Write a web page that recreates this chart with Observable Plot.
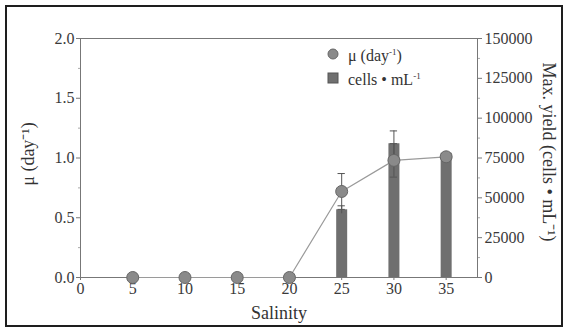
<!DOCTYPE html>
<html>
<head>
<meta charset="utf-8">
<script src="https://cdn.jsdelivr.net/npm/d3@7"></script>
<script src="https://cdn.jsdelivr.net/npm/@observablehq/plot@0.6"></script>
<style>
  html, body { margin: 0; padding: 0; background: #fff; }
  #wrap { position: relative; width: 568px; height: 329px; overflow: hidden; }
  #frame { position: absolute; left: 5px; top: 5px; width: 558px; height: 322px; border: 2px solid #1e1e1e; box-sizing: border-box; pointer-events: none; }
  #legend { position: absolute; left: 326px; top: 42px; font-family: "Liberation Serif", serif; font-size: 16px; color: #333; line-height: 20px; }
  #legend div { display: flex; align-items: center; }
  #legend svg { margin-right: 8px; }
  sup { font-size: 9px; vertical-align: 6px; }
</style>
</head>
<body>
<div id="wrap">
  <div id="chart"></div>
  <div id="legend">
    <div><svg width="14" height="14"><circle cx="7" cy="7" r="5" fill="#8a8a8a" stroke="#666"/></svg><span>μ (day<sup>-1</sup>)</span></div>
    <div><svg width="14" height="14"><rect x="2" y="2" width="10" height="10" fill="#707070" stroke="#555"/></svg><span>cells • mL<sup>-1</sup></span></div>
  </div>
  <div id="frame"></div>
</div>
<script>
// ---- data ----
const salinity = [5, 10, 15, 20, 25, 30, 35];
const mu = [0, 0, 0, 0, 0.72, 0.98, 1.01];
const muErr = [0, 0, 0, 0, 0.15, 0.14, 0.02];
const maxYield = [0, 0, 0, 0, 42500, 84000, 78000];
const yieldErr = [0, 0, 0, 0, 2500, 8000, 0];
const xTicks = [0, 5, 10, 15, 20, 25, 30, 35];
const muTicks = [0, 0.5, 1.0, 1.5, 2.0];
const yieldTicks = [0, 25000, 50000, 75000, 100000, 125000, 150000];

const muMax = 2, yieldMax = 150000;
const k = muMax / yieldMax; // map yield onto mu scale

const rows = salinity.map((s, i) => ({
  s, mu: mu[i], muErr: muErr[i], y: maxYield[i] * k, yErr: yieldErr[i] * k
}));
const barRows = rows.filter(d => d.y > 0);
const errMu = rows.filter(d => d.muErr > 0);
const errY = barRows.filter(d => d.yErr > 0);

const muMinor = d3.range(0.25, 2, 0.5);
const yMinor = yieldTicks.slice(0, -1).map(t => (t + 12500) * k);

const axisColor = "#777";
const capW = 0.35;
const chart = Plot.plot({
  width: 568,
  height: 329,
  marginLeft: 80,
  marginRight: 91,
  marginTop: 38,
  marginBottom: 52,
  style: { fontFamily: "Liberation Serif, serif", fontSize: "16px", color: "#3a3a3a", background: "transparent" },
  x: { domain: [0, 38] },
  y: { domain: [0, muMax] },
  marks: [
    Plot.frame({ stroke: axisColor }),
    Plot.axisX(xTicks, { tickSize: 3, tickPadding: 2, stroke: axisColor, tickFormat: d => String(d), label: null }),
    Plot.axisY(muTicks, { anchor: "left", tickSize: 4, tickPadding: 2, stroke: axisColor, tickFormat: d => d.toFixed(1), label: null }),
    Plot.axisY(muMinor, { anchor: "left", tickSize: 2, stroke: "#aaa", tickFormat: () => "", label: null }),
    Plot.axisY(yieldTicks.map(t => t * k), { anchor: "right", tickSize: 4, tickPadding: 3, stroke: axisColor, tickFormat: d => String(Math.round(d / k)), label: null }),
    Plot.axisY(yMinor, { anchor: "right", tickSize: 2, stroke: "#aaa", tickFormat: () => "", label: null }),
    // bars (yield)
    Plot.ruleX(barRows, { x: "s", y1: 0, y2: "y", stroke: "#6f6f6f", strokeWidth: 11 }),
    Plot.ruleX(errY, { x: "s", y1: d => d.y - d.yErr, y2: d => d.y + d.yErr, stroke: "#555", strokeWidth: 1 }),
    Plot.ruleY(errY, { y: d => d.y + d.yErr, x1: d => d.s - capW, x2: d => d.s + capW, stroke: "#555" }),
    // mu line + error bars + dots
    Plot.line(rows, { x: "s", y: "mu", stroke: "#9a9a9a", strokeWidth: 1.2 }),
    Plot.ruleX(errMu, { x: "s", y1: d => d.mu - d.muErr, y2: d => d.mu + d.muErr, stroke: "#555", strokeWidth: 1 }),
    Plot.ruleY(errMu, { y: d => d.mu + d.muErr, x1: d => d.s - capW, x2: d => d.s + capW, stroke: "#555" }),
    Plot.ruleY(errMu, { y: d => d.mu - d.muErr, x1: d => d.s - capW, x2: d => d.s + capW, stroke: "#555" }),
    Plot.dot(rows, { x: "s", y: "mu", r: 6, fill: "#8a8a8a", stroke: "#666", strokeWidth: 1 }),
    // axis titles
    Plot.text(["Salinity"], { frameAnchor: "bottom", textAnchor: "middle", dy: 41, fontSize: 18, fill: "#333" }),
    Plot.text(["μ (day⁻¹)"], { frameAnchor: "left", textAnchor: "middle", dx: -52, dy: -4, rotate: -90, fontSize: 18, fill: "#333" }),
    Plot.text(["Max. yield (cells • mL⁻¹)"], { frameAnchor: "right", textAnchor: "middle", dx: 71, dy: -6, rotate: 90, fontSize: 18, fill: "#333" })
  ]
});
document.getElementById("chart").appendChild(chart);
</script>
</body>
</html>
